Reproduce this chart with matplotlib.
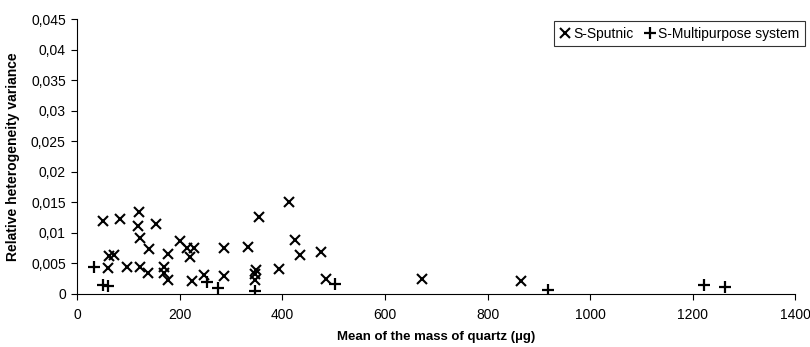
import matplotlib
matplotlib.use("Agg")
import matplotlib.pyplot as plt

plt.rcParams["font.family"] = ["Liberation Sans", "DejaVu Sans"]

# S-Sputnic (x markers)
sputnic_mass = [50, 84, 121, 118, 123, 155, 141, 62, 72, 61, 98, 123, 138, 169, 169,
                178, 178, 200, 215, 228, 221, 225, 247, 286, 286, 333, 354, 348, 346,
                346, 393, 413, 425, 434, 475, 486, 673, 865]
sputnic_var = [0.0120, 0.0123, 0.0134, 0.0111, 0.0092, 0.0114, 0.0073, 0.0062, 0.0064,
               0.0043, 0.0044, 0.0044, 0.0034, 0.0044, 0.0034, 0.0022, 0.0066, 0.0086,
               0.0075, 0.0076, 0.0061, 0.0021, 0.0031, 0.0076, 0.0030, 0.0077, 0.0126,
               0.0040, 0.0032, 0.0023, 0.0041, 0.0150, 0.0089, 0.0063, 0.0069, 0.0025,
               0.0024, 0.0021]

# S-Multipurpose system (+ markers)
multi_mass = [33, 50, 60, 253, 274, 347, 502, 917, 1221, 1262]
multi_var = [0.0044, 0.0014, 0.0013, 0.0019, 0.0009, 0.0005, 0.0016, 0.0006, 0.0014, 0.0012]

yticks = [0, 0.005, 0.01, 0.015, 0.02, 0.025, 0.03, 0.035, 0.04, 0.045]
ytick_labels = ["0", "0,005", "0,01", "0,015", "0,02", "0,025", "0,03", "0,035", "0,04", "0,045"]

fig = plt.figure(figsize=(8.1, 3.47), dpi=100)
ax = fig.add_axes([0.095, 0.153, 0.887, 0.791])

ax.plot(sputnic_mass, sputnic_var, linestyle="none", marker="x", markersize=7,
        markeredgewidth=1.5, color="black", label="S-Sputnic")
ax.plot(multi_mass, multi_var, linestyle="none", marker="+", markersize=8,
        markeredgewidth=1.6, color="black", label="S-Multipurpose system")

ax.set_xlim(0, 1400)
ax.set_ylim(0, 0.045)
ax.set_xticks(range(0, 1401, 200))
ax.set_yticks(yticks)
ax.set_yticklabels(ytick_labels)

for side in ["top", "right"]:
    ax.spines[side].set_visible(False)
for side in ["left", "bottom"]:
    ax.spines[side].set_linewidth(0.8)
ax.tick_params(axis="both", labelsize=10, length=4, width=0.8, direction="out")
ax.tick_params(axis="x", pad=6)
ax.tick_params(axis="y", pad=4)

ax.set_xlabel("Mean of the mass of quartz (µg)", fontsize=9.5, fontweight="bold")
ax.xaxis.set_label_coords(0.5, -0.135)
ax.set_ylabel("Relative heterogeneity variance", fontsize=10, fontweight="bold", labelpad=8)

leg = ax.legend(loc="upper right", bbox_to_anchor=(805 / 810, 1 - 21 / 347),
                bbox_transform=fig.transFigure, ncol=2, frameon=True, fancybox=False,
                edgecolor="black", handlelength=0.8, handletextpad=0.2, columnspacing=0.8,
                borderpad=0.4, borderaxespad=0, prop={"size": 10})
leg.get_frame().set_linewidth(0.8)

fig.savefig("out.png", dpi=100)
